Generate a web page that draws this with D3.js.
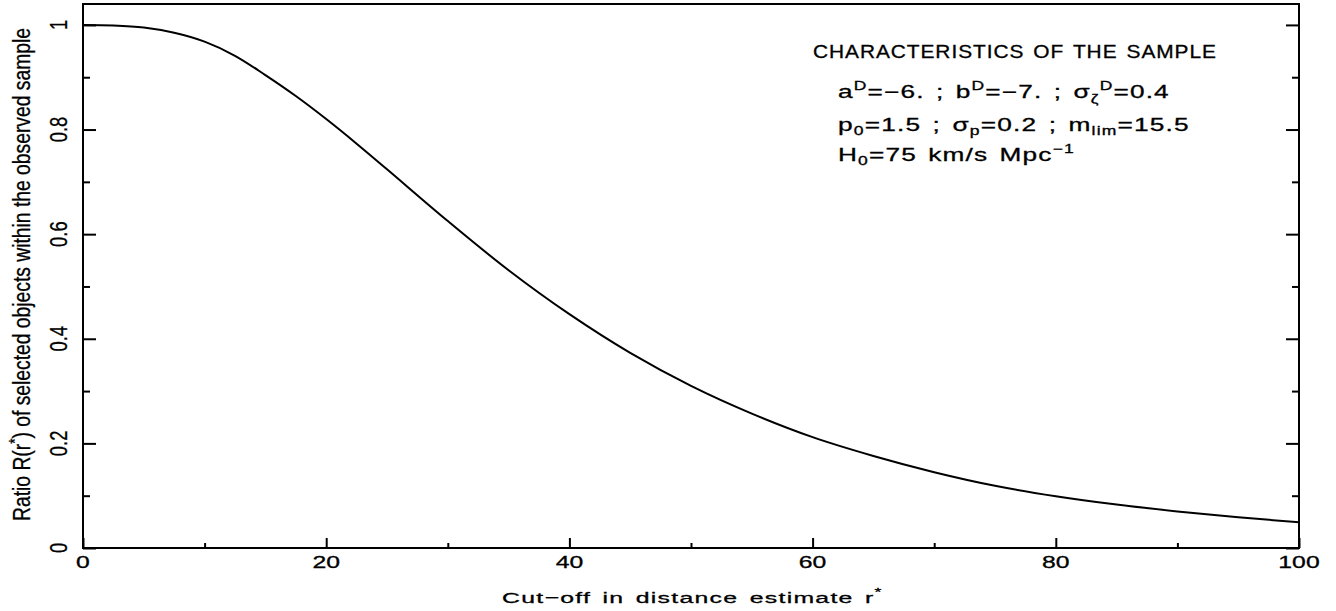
<!DOCTYPE html>
<html><head><meta charset="utf-8">
<script src="https://cdn.jsdelivr.net/npm/d3@7"></script>
<style>
body{margin:0;background:#fff}
svg{display:block}
text{font-family:"Liberation Sans",Arial,sans-serif;fill:#000;stroke:#000;stroke-width:0.3px}
.sp{letter-spacing:0.8px;word-spacing:2px}
</style>
</head><body>
<svg id="c" width="1336" height="611"></svg>
<script>
// ---- data ----
const rValues = [0,2.5,5,7.5,10,12.5,15,17.5,20,22.5,25,30,35,40,45,50,55,60,65,70,75,80,85,90,95,100];
const ratioValues = [1.000,0.999,0.995,0.985,0.968,0.941,0.904,0.864,0.820,0.773,0.724,0.625,0.531,0.447,0.373,0.310,0.257,0.212,0.176,0.145,0.119,0.099,0.083,0.070,0.059,0.049];
const xMajorTicks = [0,20,40,60,80,100];
const xMinorTicks = [10,30,50,70,90];
const yMajorTicks = [0,0.2,0.4,0.6,0.8,1];
const yMinorTicks = [0.1,0.3,0.5,0.7,0.9];
const xTickLabels = ["0","20","40","60","80","100"];
const yTickLabels = ["0","0.2","0.4","0.6","0.8","1"];
const xDomain = [0,100];
const yDomain = [0,1.04];

// ---- layout ----
const svg = d3.select("#c");
const L = 83, R = 1299, T = 4, B = 548;
const x = d3.scaleLinear().domain(xDomain).range([L,R]);
const y = d3.scaleLinear().domain(yDomain).range([B,T]);

// frame
svg.append("rect").attr("x",L).attr("y",T).attr("width",R-L).attr("height",B-T)
  .attr("fill","none").attr("stroke","#000").attr("stroke-width",2);

function styleAxis(g){ g.select(".domain").remove(); g.selectAll("line").attr("stroke","#000").attr("stroke-width",2); g.selectAll("text").remove(); }

svg.append("g").attr("transform",`translate(0,${B})`)
  .call(d3.axisBottom(x).tickValues(xMajorTicks).tickSize(-10).tickFormat(""))
  .call(styleAxis);
svg.append("g").attr("transform",`translate(0,${B})`)
  .call(d3.axisBottom(x).tickValues(xMinorTicks).tickSize(-5).tickFormat(""))
  .call(styleAxis);
svg.append("g").attr("transform",`translate(${L},0)`)
  .call(d3.axisLeft(y).tickValues(yMajorTicks).tickSize(-13).tickFormat(""))
  .call(styleAxis);
svg.append("g").attr("transform",`translate(${L},0)`)
  .call(d3.axisLeft(y).tickValues(yMinorTicks).tickSize(-7).tickFormat(""))
  .call(styleAxis);
svg.append("g").attr("transform",`translate(${R},0)`)
  .call(d3.axisRight(y).tickValues(yMajorTicks).tickSize(-13).tickFormat(""))
  .call(styleAxis);
svg.append("g").attr("transform",`translate(${R},0)`)
  .call(d3.axisRight(y).tickValues(yMinorTicks).tickSize(-7).tickFormat(""))
  .call(styleAxis);

// x tick labels
xMajorTicks.forEach((v,i)=>{
  svg.append("text").attr("text-anchor","middle").attr("font-size",16.5)
    .attr("transform",`translate(${x(v)},568) scale(1.5,1)`).text(xTickLabels[i]);
});
// y tick labels (rotated)
yMajorTicks.forEach((v,i)=>{
  svg.append("text").attr("text-anchor","middle").attr("font-size",23)
    .attr("transform",`translate(67,${y(v)}) scale(1,0.8) rotate(-90)`).text(yTickLabels[i]);
});

// curve
const pts = rValues.map((r,i)=>[r,ratioValues[i]]);
svg.append("path").datum(pts)
  .attr("fill","none").attr("stroke","#000").attr("stroke-width",2)
  .attr("d", d3.line().x(d=>x(d[0])).y(d=>y(d[1])).curve(d3.curveCatmullRom));

// helpers for text fitting
function fitH(t, x0, yb, target){
  const w = t.node().getBBox().width;
  t.attr("transform",`translate(${x0},${yb}) scale(${target/w},1)`);
}

// x axis title
{
  const t = svg.append("text").attr("font-size",15.5).attr("class","sp");
  t.append("tspan").text("Cut\u2212off in distance estimate r");
  t.append("tspan").attr("font-size",11).attr("dy",-7).text("*");
  fitH(t, 502, 603, 381);
}
// y axis title (rotated)
{
  const t = svg.append("text").attr("font-size",23).attr("text-anchor","middle");
  t.append("tspan").text("Ratio R(r");
  t.append("tspan").attr("font-size",16).attr("dy",-9).text("*");
  t.append("tspan").attr("dy",9).text(") of selected objects within the observed sample");
  const w = t.node().getBBox().width;
  t.attr("transform",`translate(30,274.5) scale(1,${493/w}) rotate(-90)`);
}

// annotation block
{
  const t = svg.append("text").attr("font-size",18).attr("class","sp").text("CHARACTERISTICS OF THE SAMPLE");
  fitH(t, 813, 58, 404);
}
{
  const t = svg.append("text").attr("font-size",18).attr("class","sp");
  t.append("tspan").text("a");
  t.append("tspan").attr("font-size",12).attr("dy",-8).text("D");
  t.append("tspan").attr("dy",8).text("=\u22126. ; b");
  t.append("tspan").attr("font-size",12).attr("dy",-8).text("D");
  t.append("tspan").attr("dy",8).text("=\u22127. ; \u03c3");
  t.append("tspan").attr("font-size",12).attr("dy",5).text("\u03b6");
  t.append("tspan").attr("font-size",12).attr("dy",-13).text("D");
  t.append("tspan").attr("dy",8).text("=0.4");
  fitH(t, 838, 98, 332);
}
{
  const t = svg.append("text").attr("font-size",18).attr("class","sp");
  t.append("tspan").text("p");
  t.append("tspan").attr("font-size",12).attr("dy",4).text("0");
  t.append("tspan").attr("dy",-4).text("=1.5 ; \u03c3");
  t.append("tspan").attr("font-size",12).attr("dy",4).text("p");
  t.append("tspan").attr("dy",-4).text("=0.2 ; m");
  t.append("tspan").attr("font-size",12).attr("dy",4).text("lim");
  t.append("tspan").attr("dy",-4).text("=15.5");
  fitH(t, 838, 131, 352);
}
{
  const t = svg.append("text").attr("font-size",18).attr("class","sp");
  t.append("tspan").text("H");
  t.append("tspan").attr("font-size",12).attr("dy",4).text("0");
  t.append("tspan").attr("dy",-4).text("=75 km/s Mpc");
  t.append("tspan").attr("font-size",12).attr("dy",-8).text("\u22121");
  fitH(t, 838, 161, 237);
}
</script>
</body></html>
